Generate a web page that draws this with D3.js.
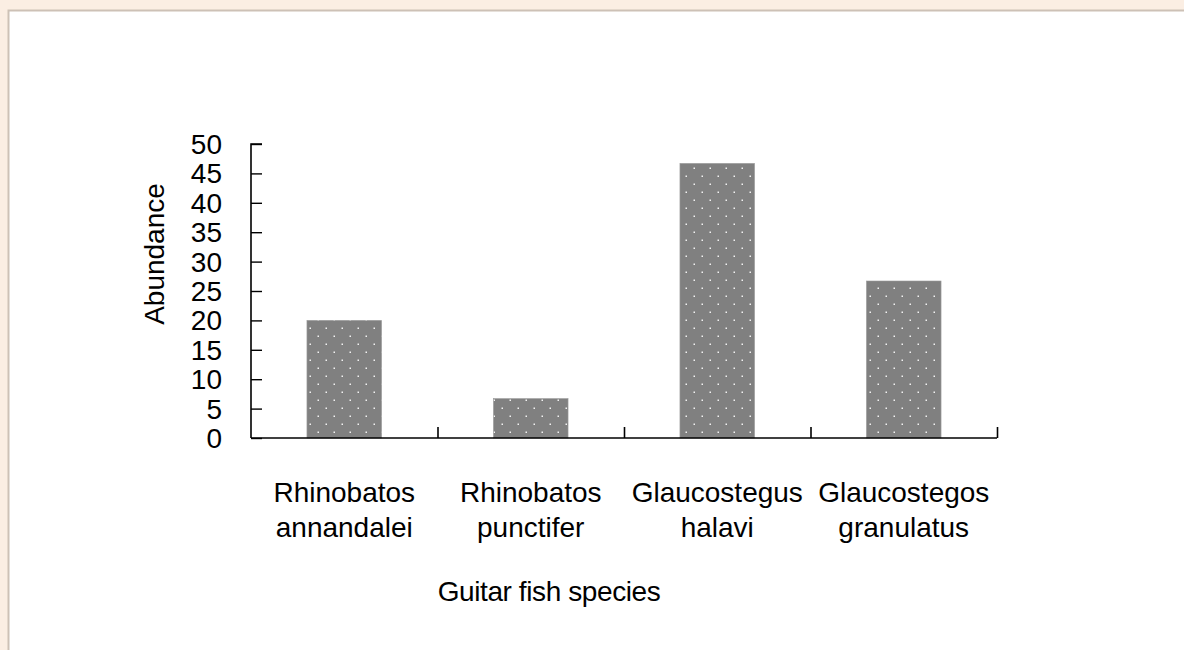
<!DOCTYPE html>
<html>
<head>
<meta charset="utf-8">
<script src="https://cdn.jsdelivr.net/npm/d3@7"></script>
<style>
  html, body { margin: 0; padding: 0; background: #fbeee3; }
  svg { display: block; }
  text { font-family: "Liberation Sans", Arial, sans-serif; fill: #000; font-size: 28px; }
</style>
</head>
<body>
<script>
// Guitar fish abundance by species (percent of catch)
const categories = ["Rhinobatos annandalei", "Rhinobatos punctifer", "Glaucostegus halavi", "Glaucostegos granulatus"];
const categoryLines = [["Rhinobatos", "annandalei"], ["Rhinobatos", "punctifer"], ["Glaucostegus", "halavi"], ["Glaucostegos", "granulatus"]];
const abundance = [20, 6.7, 46.7, 26.7];
const yTicks = [0, 5, 10, 15, 20, 25, 30, 35, 40, 45, 50];
const xTitle = "Guitar fish species";
const yTitle = "Abundance";

const W = 1184, H = 650;
const svg = d3.select("body").append("svg").attr("width", W).attr("height", H);

// white chart panel with thin frame
svg.append("rect")
  .attr("x", 8.5).attr("y", 10.5)
  .attr("width", W + 10).attr("height", H + 10)
  .attr("fill", "#fff").attr("stroke", "#cdc1b6").attr("stroke-width", 2);

// dotted fill pattern
const defs = svg.append("defs");
const pat = defs.append("pattern")
  .attr("id", "dots").attr("patternUnits", "userSpaceOnUse")
  .attr("width", 16).attr("height", 16);
pat.append("rect").attr("width", 16).attr("height", 16).attr("fill", "#808080");
pat.append("rect").attr("x", 5.5).attr("y", 7.5).attr("width", 1.5).attr("height", 1.5).attr("fill", "#f2f2f2");
pat.append("rect").attr("x", 13.5).attr("y", -0.5).attr("width", 1.5).attr("height", 1.5).attr("fill", "#f2f2f2");
pat.append("rect").attr("x", 13.5).attr("y", 15.5).attr("width", 1.5).attr("height", 1.5).attr("fill", "#f2f2f2");

const x0 = 251, x1 = 997, yTop = 144, yBottom = 438;

const x = d3.scaleBand().domain(categories).range([x0, x1]).paddingInner(0.6).paddingOuter(0.3);
const y = d3.scaleLinear().domain([0, 50]).range([yBottom, yTop]);
const edge = d3.scaleLinear().domain([0, categories.length]).range([x0, x1]);

// bars
svg.append("g").selectAll("rect").data(categories).join("rect")
  .attr("x", d => x(d))
  .attr("y", (d, i) => y(abundance[i]))
  .attr("width", x.bandwidth())
  .attr("height", (d, i) => y(0) - y(abundance[i]))
  .attr("fill", "url(#dots)")
  .attr("stroke", "#9a9a9a").attr("stroke-width", 0.6);

// y axis (ticks pointing inward)
const yAxis = svg.append("g").attr("transform", `translate(${x0},0)`)
  .call(d3.axisRight(y).tickValues(yTicks).tickSize(11).tickFormat(() => ""));
yAxis.select(".domain").attr("d", `M11,${yTop}H0V${yBottom}`).attr("stroke", "#000").attr("stroke-width", 1.6);
yAxis.selectAll(".tick line").attr("stroke", "#000").attr("stroke-width", 1.4);

// y tick labels
svg.append("g").selectAll("text").data(yTicks).join("text")
  .attr("x", 222).attr("y", d => y(d) + 10)
  .attr("text-anchor", "end")
  .text(d => d);

// x axis with boundary ticks pointing upward
const xAxis = svg.append("g").attr("transform", `translate(0,${yBottom})`)
  .call(d3.axisTop(edge).tickValues(d3.range(1, categories.length + 1)).tickSize(11).tickFormat(() => ""));
xAxis.select(".domain").attr("d", `M${x0},0H${x1}`).attr("stroke", "#000").attr("stroke-width", 1.6);
xAxis.selectAll(".tick line").attr("stroke", "#000").attr("stroke-width", 1.6);

// category labels
const labels = svg.append("g").selectAll("text").data(categories).join("text")
  .attr("text-anchor", "middle")
  .attr("x", d => x(d) + x.bandwidth() / 2)
  .attr("y", 502);
labels.selectAll("tspan").data((d, i) => categoryLines[i]).join("tspan")
  .attr("x", function () { return d3.select(this.parentNode).attr("x"); })
  .attr("dy", (d, i) => i === 0 ? 0 : 35)
  .text(d => d);

// axis titles
svg.append("text")
  .attr("x", 549).attr("y", 601)
  .attr("text-anchor", "middle")
  .style("letter-spacing", "-0.4px")
  .text(xTitle);

svg.append("text")
  .attr("transform", "translate(164,254) rotate(-90)")
  .attr("text-anchor", "middle")
  .text(yTitle);
</script>
</body>
</html>
